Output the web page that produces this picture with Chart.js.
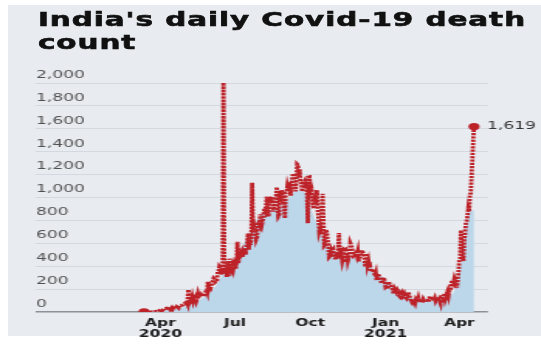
<!DOCTYPE html>
<html>
<head>
<meta charset="utf-8">
<script src="https://cdn.jsdelivr.net/npm/chart.js@4.4.1/dist/chart.umd.min.js"></script>
<style>
    html, body { margin: 0; padding: 0; background: #ffffff; overflow: hidden; width: 541px; height: 346px; }
    #panel { position: absolute; left: 8px; top: 5px; width: 533px; height: 331px; background: #e8ecf0; }
    /* the graphic is laid out narrow and widened as a whole */
    #stage { position: absolute; left: 0; top: 0; width: 349px; height: 346px; transform: scaleX(1.55); transform-origin: 0 0; }
    #title {
        position: absolute; left: 24.5px; top: 7.6px;
        font: bold 19px/23px "DejaVu Sans", sans-serif; letter-spacing: 0.6px;
        color: #111; -webkit-text-stroke: 0.6px #111; white-space: nowrap;
    }
    #chart { position: absolute; left: 0; top: 0; }
</style>
</head>
<body>
<div id="panel"></div>
<div id="stage">
    <div id="title">India's daily Covid-19 death<br>count</div>
    <canvas id="chart" width="349" height="346"></canvas>
</div>
<script>
// days are counted from 1 Jan 2020; the daily series starts on 12 Mar 2020
const firstDay = 71;

const deathsMar20 = [1, 1, 0, 0, 0, 1, 0, 1, 0, 1, 3, 1, 2, 1, 5, 3, 5, 3, 4, 16];
const deathsApr20 = [17, 19, 12, 20, 25, 32, 30, 33, 35, 33, 37, 28, 42, 29, 38, 26, 37, 37, 35, 31, 46, 41, 35, 57, 56, 56, 60, 60, 69, 71];
const deathsMay20 = [77, 72, 83, 68, 195, 126, 89, 103, 95, 128, 97, 121, 122, 134, 100, 120, 157, 134, 140, 132, 148, 137, 142, 146, 154, 170, 194, 175, 265, 193, 210];
const deathsJun20 = [204, 230, 260, 273, 294, 287, 261, 266, 274, 357, 357, 396, 386, 325, 380, 343, 2003, 334, 336, 375, 306, 445, 312, 465, 418, 413, 384, 410, 380, 418];
const deathsJul20 = [434, 379, 442, 613, 425, 467, 482, 507, 487, 475, 519, 500, 553, 500, 582, 606, 687, 543, 681, 587, 637, 1129, 740, 757, 705, 708, 636, 654, 768, 779, 764];
const deathsAug20 = [853, 803, 771, 803, 857, 904, 886, 933, 1007, 871, 834, 1007, 950, 996, 1007, 941, 876, 944, 977, 983, 1091, 912, 836, 848, 1059, 1023, 1065, 948, 1021, 971, 819];
const deathsSep20 = [1043, 1045, 1096, 1066, 1065, 1133, 1016, 1115, 1172, 1209, 1201, 1114, 1054, 1132, 1290, 1283, 1174, 1247, 1133, 1130, 1053, 1085, 1129, 1141, 1089, 1124, 1039, 776, 1179, 1181];
const deathsOct20 = [1069, 1095, 1069, 940, 903, 986, 971, 963, 1064, 918, 816, 706, 730, 680, 895, 1033, 837, 579, 587, 717, 702, 650, 578, 480, 488, 517, 480, 543, 551, 490, 470];
const deathsNov20 = [470, 496, 490, 514, 690, 470, 559, 490, 447, 480, 548, 543, 547, 435, 516, 449, 474, 501, 600, 584, 562, 511, 480, 481, 518, 524, 496, 525, 443, 482];
const deathsDec20 = [482, 500, 540, 524, 511, 482, 396, 402, 512, 416, 442, 391, 400, 354, 355, 376, 347, 340, 320, 341, 279, 333, 336, 314, 290, 278, 251, 251, 286, 301, 256];
const deathsJan21 = [217, 224, 201, 214, 264, 234, 228, 222, 212, 180, 161, 201, 188, 175, 190, 175, 145, 137, 162, 151, 163, 131, 137, 153, 131, 123, 163, 151, 173, 137, 127];
const deathsFeb21 = [94, 84, 107, 104, 94, 78, 108, 97, 94, 120, 91, 101, 95, 80, 90, 113, 101, 104, 107, 100, 101, 86, 110, 138, 104, 108, 113, 112];
const deathsMar21 = [108, 123, 98, 114, 108, 113, 99, 96, 77, 133, 131, 117, 133, 161, 112, 131, 172, 188, 154, 197, 199, 212, 275, 271, 257, 291, 271, 312, 212, 271, 354];
const deathsApr21 = [459, 469, 714, 513, 478, 446, 630, 685, 780, 794, 839, 904, 879, 1027, 1038, 1185, 1341, 1501, 1619];

// smoothed trend under the daily line
const avgDays = [71, 100, 115, 139, 158, 168, 176, 188, 200, 213, 225, 237, 249, 258, 270, 277, 286, 294, 302, 314, 335, 347, 359, 371, 384, 396, 408, 420, 432, 445, 451, 457, 463, 467, 474];
const avgDeaths = [0, 20, 32, 104, 220, 336, 394, 540, 684, 844, 887, 916, 1003, 1061, 1018, 858, 713, 597, 540, 496, 452, 394, 322, 250, 191, 130, 100, 95, 95, 140, 200, 380, 650, 860, 890];

const tickDays = [91, 182, 274, 366, 456];
const tickLabels = [['Apr', '2020'], 'Jul', 'Oct', ['Jan', '2021'], 'Apr'];

const dailyDeaths = [].concat(deathsMar20, deathsApr20, deathsMay20, deathsJun20, deathsJul20, deathsAug20,
    deathsSep20, deathsOct20, deathsNov20, deathsDec20, deathsJan21, deathsFeb21, deathsMar21, deathsApr21);

const red = '#bd2229';
const lastIndex = dailyDeaths.length - 1;

// value label next to the latest point
const endLabel = {
    id: 'endLabel',
    afterDatasetsDraw(chart) {
        const pt = chart.getDatasetMeta(0).data[lastIndex];
        const ctx = chart.ctx;
        ctx.save();
        ctx.font = '11px "DejaVu Sans", sans-serif';
        ctx.fillStyle = '#333';
        ctx.textAlign = 'left';
        ctx.textBaseline = 'middle';
        ctx.fillText(dailyDeaths[lastIndex].toLocaleString('en-US'), pt.x + 8.4, pt.y);
        ctx.restore();
    }
};

new Chart(document.getElementById('chart'), {
    type: 'line',
    data: {
        datasets: [{
            data: dailyDeaths.map((v, i) => ({ x: firstDay + i, y: v })),
            borderColor: red,
            borderWidth: 2.8,
            borderDash: [2.2, 1.1],
            pointRadius: (c) => (c.dataIndex === 0 || c.dataIndex === lastIndex ? 3.6 : 0),
            pointBackgroundColor: red,
            pointBorderWidth: 0,
            tension: 0,
            fill: false,
            order: 0
        }, {
            data: avgDays.map((d, i) => ({ x: d, y: avgDeaths[i] })),
            backgroundColor: '#bcd6ea',
            borderWidth: 0,
            pointRadius: 0,
            tension: 0.4,
            cubicInterpolationMode: 'monotone',
            fill: 'origin',
            order: 1
        }]
    },
    options: {
        responsive: false,
        animation: false,
        devicePixelRatio: 1,
        layout: { padding: { left: 23.2, right: 34.2, top: 83, bottom: 0 } },
        plugins: { legend: { display: false }, tooltip: { enabled: false } },
        scales: {
            x: {
                type: 'linear',
                min: -61,
                max: 491,
                grid: { display: false },
                border: { display: false },
                afterBuildTicks: (scale) => { scale.ticks = tickDays.map(v => ({ value: v })); },
                afterFit: (scale) => { scale.height = 34; },
                ticks: {
                    autoSkip: false,
                    maxRotation: 0,
                    padding: -2,
                    color: '#1a1a1a',
                    font: { family: 'DejaVu Sans', size: 10, weight: 'bold', lineHeight: 1.1 },
                    callback: (value, index) => tickLabels[index]
                }
            },
            y: {
                min: 0,
                max: 2000,
                border: { display: false },
                grid: {
                    drawTicks: false,
                    color: (c) => (c.tick.value === 0 ? '#8d9297' : '#d3d9df'),
                    lineWidth: (c) => (c.tick.value === 0 ? 1.6 : 1)
                },
                afterFit: (scale) => { scale.width = 0; },
                ticks: {
                    stepSize: 200,
                    mirror: true,
                    padding: 0,
                    labelOffset: -8,
                    color: '#505050',
                    font: { family: 'DejaVu Sans', size: 11 },
                    callback: (value) => value.toLocaleString('en-US')
                }
            }
        }
    },
    plugins: [endLabel]
});
</script>
</body>
</html>
